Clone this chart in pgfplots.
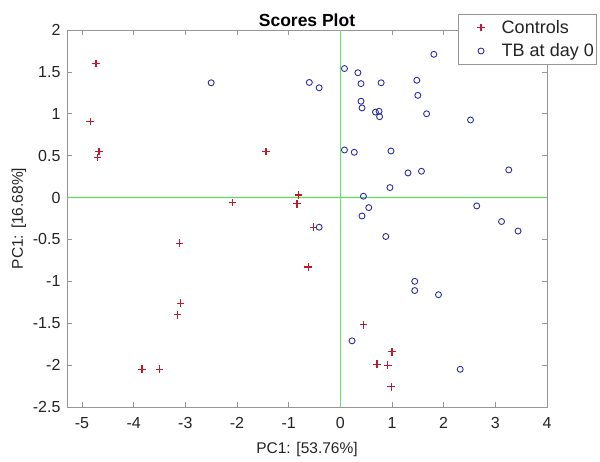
\documentclass[border=0pt]{standalone}
\usepackage{fontspec}
\setmainfont{Liberation Sans}
\usepackage{pgfplots}
\pgfplotsset{compat=1.18}
\definecolor{ctrl}{RGB}{190,25,45}
\definecolor{tb}{RGB}{45,45,165}
\definecolor{axg}{RGB}{150,150,150}
\definecolor{txt}{RGB}{35,35,35}
\definecolor{zl}{RGB}{110,220,110}
\definecolor{zlh}{RGB}{100,218,100}
\begin{document}
\begin{tikzpicture}
\begin{axis}[
  scale only axis,
  width=480pt, height=377pt,
  xmin=-5.29, xmax=4, ymin=-2.5, ymax=2,
  xtick={-5,-4,...,4}, ytick={-2.5,-2,...,2},
  axis line style={axg, line width=0.7pt},
  tick style={axg, line width=0.7pt},
  major tick length=5pt,
  tick align=inside,
  /pgf/number format/assume math mode=true,
  ticklabel style={font=\fontsize{16}{18}\selectfont, text=txt},
  xticklabel style={yshift=-7pt},
  yticklabel style={xshift=-3pt},
  xlabel={PC1: [53.76\%]}, ylabel={PC1: [16.68\%]},
  xlabel style={font=\fontsize{15.5}{17}\selectfont, text=txt, yshift=-7pt},
  ylabel style={font=\fontsize{15.5}{17}\selectfont, text=txt, yshift=0pt},
  title={\bfseries Scores Plot},
  title style={font=\fontsize{17.5}{19}\selectfont, yshift=-6pt},
  legend style={at={(1,1)}, anchor=north east, xshift=49pt, yshift=16pt,
    draw=axg, font=\fontsize{18}{21}\selectfont, text=txt, inner xsep=0pt, inner ysep=4pt,
    row sep=5pt},
  legend image code/.code={\path (0pt,0pt) (31pt,0pt); \draw[#1] plot coordinates {(22.5pt,0pt)};},
  legend cell align=left,
  clip=false,
]
\addplot[fill=zlh, draw=none, forget plot] coordinates {(-5.29,-0.008) (4,-0.008) (4,0.008) (-5.29,0.008)} \closedcycle;
\addplot[zl, line width=1.2pt, forget plot] coordinates {(0,-2.5) (0,2)};
\addplot[only marks, mark=+, mark size=3.8pt, ctrl, mark options={line width=1.2pt}] coordinates {
(-4.73,1.60) (-4.84,0.91) (-4.67,0.55) (-4.70,0.48) (-1.44,0.55)
(-2.09,-0.06) (-0.81,0.03) (-0.84,-0.075) (-0.52,-0.354) (-0.62,-0.83)
(-3.11,-0.545) (-3.09,-1.26) (-3.15,-1.40) (-3.84,-2.05) (-3.50,-2.05)
(0.45,-1.52) (1.00,-1.84) (0.71,-1.99) (0.92,-2.00) (0.985,-2.26)
};
\addlegendentry{\hspace{10pt}Controls}
\addplot[only marks, mark=o, mark size=3pt, tb, mark options={line width=0.9pt}] coordinates {
(-2.50,1.37) (1.81,1.71) (0.08,1.54) (0.34,1.49) (-0.60,1.374) (-0.41,1.31)
(0.40,1.36) (0.79,1.37) (1.48,1.40) (1.50,1.22) (0.40,1.15) (0.42,1.07)
(0.68,1.02) (0.75,1.03) (0.76,0.965) (1.67,1.00) (2.52,0.926) (0.08,0.568)
(0.27,0.54) (0.98,0.556) (1.31,0.294) (1.57,0.314) (3.26,0.33) (0.96,0.119)
(0.447,0.016) (0.55,-0.12) (0.42,-0.22) (2.64,-0.10) (3.12,-0.286) (3.44,-0.40)
(0.88,-0.465) (-0.41,-0.354) (1.44,-1.00) (1.44,-1.11) (1.90,-1.16)
(0.227,-1.71) (2.32,-2.05)
};
\addlegendentry{\hspace{10pt}TB at day 0}
\end{axis}
\pgfresetboundingbox
\path (current axis.south west) ++(-67pt,-55pt) rectangle ++(600pt,462pt);
\end{tikzpicture}
\end{document}
